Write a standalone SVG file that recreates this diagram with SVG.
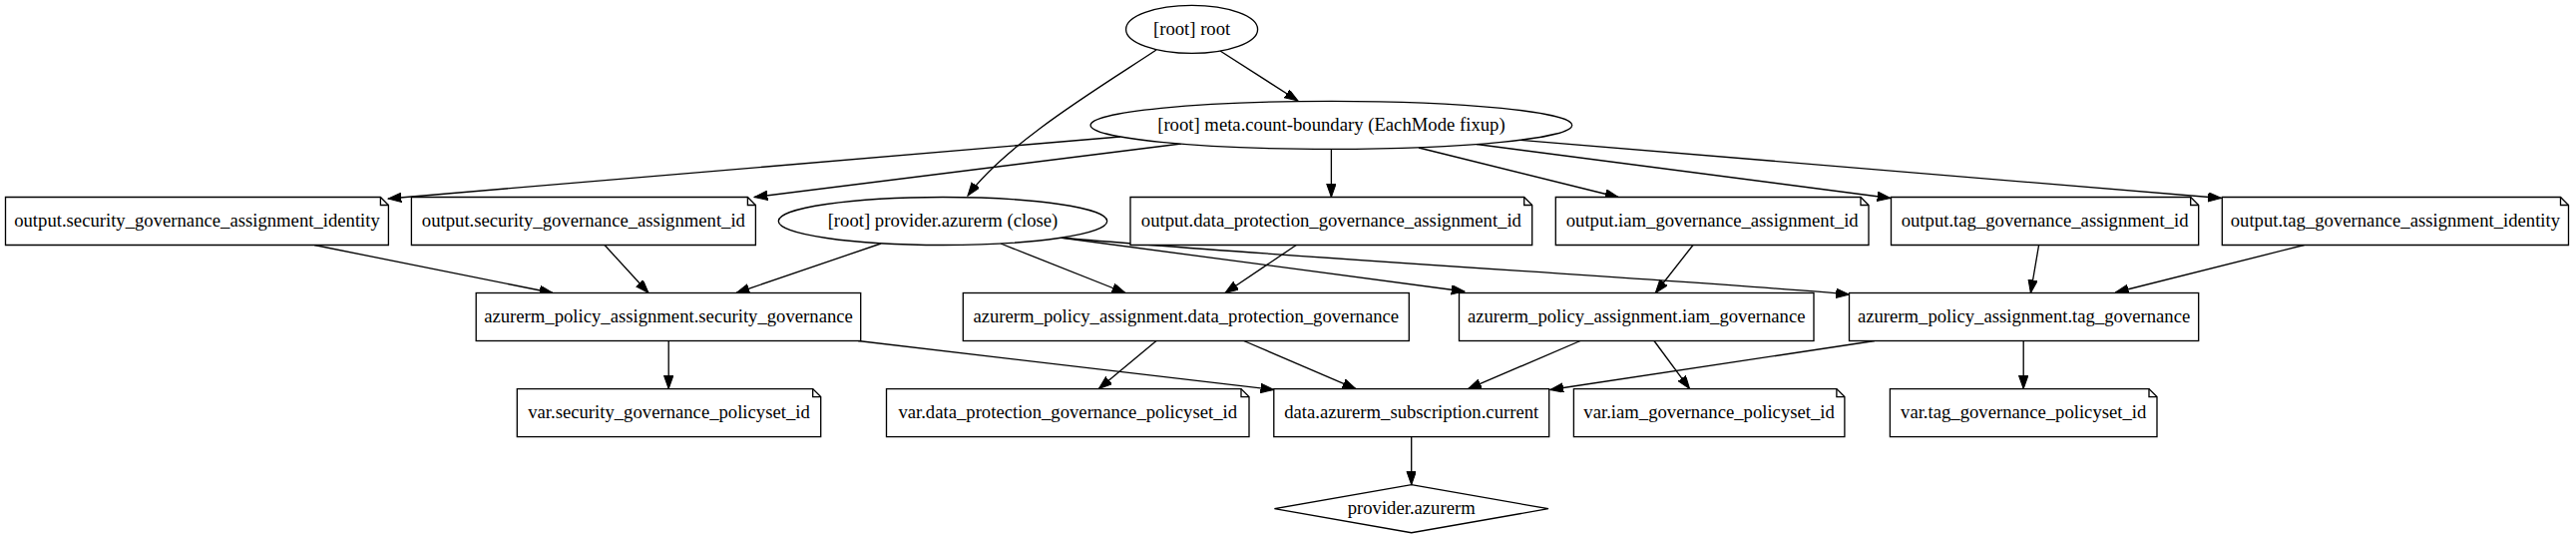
<svg xmlns="http://www.w3.org/2000/svg" width="2582" height="539" viewBox="0 0 2582 539">
<style>
.n{fill:#fff;stroke:#000;stroke-width:1.33}
.f{fill:none;stroke:#000;stroke-width:1.33}
.t{font-family:"Liberation Serif","Times New Roman",serif;font-size:18.68px;text-anchor:middle;fill:#000}
.e{fill:none;stroke:#000;stroke-width:1.33;marker-end:url(#ah)}
</style>
<defs>
<marker id="ah" markerUnits="userSpaceOnUse" markerWidth="14" markerHeight="10" refX="13.3" refY="4.7" orient="auto" viewBox="0 0 14 10">
<path d="M0,0 L13.3,4.7 L0,9.4 z" fill="#000" stroke="#000" stroke-width="1"/>
</marker>
</defs>
<rect width="2582" height="539" fill="#fff"/>
<g id="connectors">
<path class="e" d="M1223,51 L1301,101"/>
<path class="e" d="M1159,50 C1108,84 1010,142 970,196"/>
<path class="e" d="M1123,137 L389,199"/>
<path class="e" d="M1184,144 L756,197.5"/>
<path class="e" d="M1334.4,149.4 L1334.4,197.5"/>
<path class="e" d="M1422,148 L1622,197.5"/>
<path class="e" d="M1480,144.5 L1895,198.5"/>
<path class="e" d="M1524,140.3 L2226.5,198.5"/>
<path class="e" d="M315,245.5 L554,293.5"/>
<path class="e" d="M606,245.5 L650,293.5"/>
<path class="e" d="M883,244 L738,293.5"/>
<path class="e" d="M1003,244 L1128,293.5"/>
<path class="e" d="M1062,238 L1468,292"/>
<path class="e" d="M1062,238 C1300,259 1700,281 1853.5,295"/>
<path class="e" d="M1299.3,245.5 L1228,293.5"/>
<path class="e" d="M1697,245.5 L1659.3,293.5"/>
<path class="e" d="M2043.6,245.5 L2035.4,293.5"/>
<path class="e" d="M2309.6,245.5 L2120.4,293"/>
<path class="e" d="M670.2,341.5 L670.2,389.6"/>
<path class="e" d="M860,341.5 L1276.8,390.5"/>
<path class="e" d="M1159,341.5 L1101.3,389.6"/>
<path class="e" d="M1246.7,341.5 L1359,389.6"/>
<path class="e" d="M1584,341.5 L1471.5,389.6"/>
<path class="e" d="M1658,341.5 L1693.6,389.6"/>
<path class="e" d="M1879,341.5 L1553.8,390.5"/>
<path class="e" d="M2028.2,341.5 L2028.2,389.6"/>
<path class="e" d="M1414.7,437.6 L1414.7,485.7"/>
</g>
<g id="root">
<ellipse class="n" cx="1194.6" cy="29.4" rx="66" ry="24"/>
<text class="t" x="1194.6" y="35">[root] root</text>
</g>
<g id="meta">
<ellipse class="n" cx="1334.4" cy="125.4" rx="241.3" ry="24"/>
<text class="t" x="1334.4" y="131">[root] meta.count-boundary (EachMode fixup)</text>
</g>
<g id="out_sec_identity">
<path class="n" d="M5.5,197.5 H381.4 L389.4,205.5 V245.5 H5.5 Z"/>
<path class="f" d="M381.4,197.5 V205.5 H389.4"/>
<text class="t" x="197.5" y="227.1">output.security_governance_assignment_identity</text>
</g>
<g id="out_sec_id">
<path class="n" d="M412.4,197.5 H749.4 L757.4,205.5 V245.5 H412.4 Z"/>
<path class="f" d="M749.4,197.5 V205.5 H757.4"/>
<text class="t" x="584.9" y="227.1">output.security_governance_assignment_id</text>
</g>
<g id="provider_close">
<ellipse class="n" cx="945" cy="221.5" rx="164.7" ry="24"/>
<text class="t" x="945" y="227.1">[root] provider.azurerm (close)</text>
</g>
<g id="out_dp_id">
<path class="n" d="M1133,197.5 H1527.7 L1535.7,205.5 V245.5 H1133 Z"/>
<path class="f" d="M1527.7,197.5 V205.5 H1535.7"/>
<text class="t" x="1334.4" y="227.1">output.data_protection_governance_assignment_id</text>
</g>
<g id="out_iam_id">
<path class="n" d="M1559.3,197.5 H1865 L1873,205.5 V245.5 H1559.3 Z"/>
<path class="f" d="M1865,197.5 V205.5 H1873"/>
<text class="t" x="1716.2" y="227.1">output.iam_governance_assignment_id</text>
</g>
<g id="out_tag_id">
<path class="n" d="M1895.5,197.5 H2195.7 L2203.7,205.5 V245.5 H1895.5 Z"/>
<path class="f" d="M2195.7,197.5 V205.5 H2203.7"/>
<text class="t" x="2049.6" y="227.1">output.tag_governance_assignment_id</text>
</g>
<g id="out_tag_identity">
<path class="n" d="M2227.3,197.5 H2566.5 L2574.5,205.5 V245.5 H2227.3 Z"/>
<path class="f" d="M2566.5,197.5 V205.5 H2574.5"/>
<text class="t" x="2400.9" y="227.1">output.tag_governance_assignment_identity</text>
</g>
<g id="sec_assign">
<rect class="n" x="477.2" y="293.5" width="385.5" height="48"/>
<text class="t" x="670" y="323.1">azurerm_policy_assignment.security_governance</text>
</g>
<g id="dp_assign">
<rect class="n" x="965.3" y="293.5" width="447" height="48"/>
<text class="t" x="1188.8" y="323.1">azurerm_policy_assignment.data_protection_governance</text>
</g>
<g id="iam_assign">
<rect class="n" x="1462.5" y="293.5" width="355.5" height="48"/>
<text class="t" x="1640.2" y="323.1">azurerm_policy_assignment.iam_governance</text>
</g>
<g id="tag_assign">
<rect class="n" x="1853.5" y="293.5" width="350.2" height="48"/>
<text class="t" x="2028.6" y="323.1">azurerm_policy_assignment.tag_governance</text>
</g>
<g id="var_sec">
<path class="n" d="M518.3,389.6 H814.7 L822.7,397.6 V437.6 H518.3 Z"/>
<path class="f" d="M814.7,389.6 V397.6 H822.7"/>
<text class="t" x="670.5" y="419.2">var.security_governance_policyset_id</text>
</g>
<g id="var_dp">
<path class="n" d="M888.5,389.6 H1244 L1252,397.6 V437.6 H888.5 Z"/>
<path class="f" d="M1244,389.6 V397.6 H1252"/>
<text class="t" x="1070.2" y="419.2">var.data_protection_governance_policyset_id</text>
</g>
<g id="data_sub">
<rect class="n" x="1276.8" y="389.6" width="275.9" height="48"/>
<text class="t" x="1414.7" y="419.2">data.azurerm_subscription.current</text>
</g>
<g id="var_iam">
<path class="n" d="M1577.4,389.6 H1840.9 L1848.9,397.6 V437.6 H1577.4 Z"/>
<path class="f" d="M1840.9,389.6 V397.6 H1848.9"/>
<text class="t" x="1713.1" y="419.2">var.iam_governance_policyset_id</text>
</g>
<g id="var_tag">
<path class="n" d="M1894.4,389.6 H2154 L2162,397.6 V437.6 H1894.4 Z"/>
<path class="f" d="M2154,389.6 V397.6 H2162"/>
<text class="t" x="2028.2" y="419.2">var.tag_governance_policyset_id</text>
</g>
<g id="provider">
<path class="n" d="M1414.7,485.7 L1552,509.7 L1414.7,533.7 L1277.4,509.7 Z"/>
<text class="t" x="1414.7" y="515.3">provider.azurerm</text>
</g>
</svg>
